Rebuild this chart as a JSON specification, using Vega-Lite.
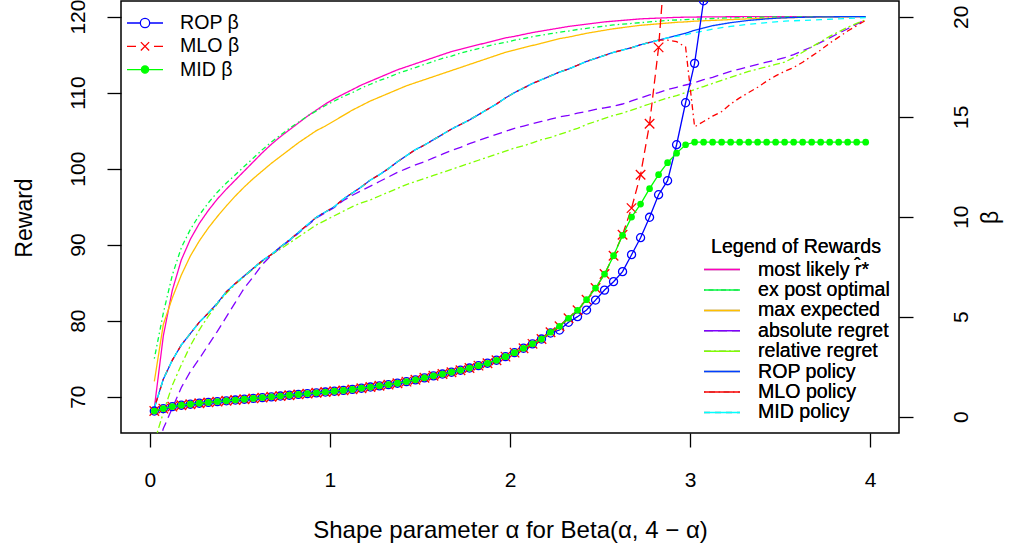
{
  "$schema": "https://vega.github.io/schema/vega-lite/v6.json",
  "width": 778,
  "height": 432,
  "autosize": {"type": "none"},
  "padding": {"left": 121, "top": 1, "right": 112, "bottom": 117},
  "background": "white",
  "config": {
    "font": "Liberation Sans",
    "view": {"stroke": "black", "strokeWidth": 1.5},
    "axis": {"domain": false, "grid": false, "tickColor": "black", "tickWidth": 1.3, "tickSize": 14, "labelColor": "black", "titleColor": "black", "labelFontSize": 21, "titleFontSize": 23, "titleFontWeight": "normal", "labelFlush": false, "labelOverlap": false, "labelBound": false},
    "legend": {"labelColor": "black", "titleColor": "black", "titleFontWeight": "normal", "labelFontWeight": "normal"}
  },
  "data": {"values": [
    {"a":0.025,"ml":68.5,"ep":75.0,"me":72.0,"ar":62.0,"rr":64.0,"rp":68.5,"mp":68.5,"dp":68.5,"bR":0.28,"bM":0.28,"bD":0.28},
    {"a":0.075,"ml":78.0,"ep":81.0,"me":79.5,"ar":65.8,"rr":67.9,"rp":72.3,"mp":72.3,"dp":72.3,"bR":0.40,"bM":0.40,"bD":0.40},
    {"a":0.125,"ml":84.0,"ep":86.0,"me":83.0,"ar":68.5,"rr":71.5,"rp":74.8,"mp":74.8,"dp":74.8,"bR":0.50,"bM":0.50,"bD":0.50},
    {"a":0.175,"ml":88.0,"ep":89.6,"me":86.0,"ar":71.2,"rr":74.2,"rp":76.8,"mp":76.8,"dp":76.8,"bR":0.57,"bM":0.57,"bD":0.57},
    {"a":0.225,"ml":90.7,"ep":92.0,"me":88.5,"ar":73.3,"rr":76.7,"rp":78.3,"mp":78.3,"dp":78.3,"bR":0.62,"bM":0.62,"bD":0.62},
    {"a":0.275,"ml":92.8,"ep":93.9,"me":90.5,"ar":75.0,"rr":78.8,"rp":79.8,"mp":79.8,"dp":79.8,"bR":0.67,"bM":0.67,"bD":0.67},
    {"a":0.325,"ml":94.5,"ep":95.5,"me":92.2,"ar":76.8,"rr":80.6,"rp":81.0,"mp":81.0,"dp":81.0,"bR":0.71,"bM":0.71,"bD":0.71},
    {"a":0.375,"ml":96.0,"ep":96.9,"me":93.7,"ar":78.6,"rr":82.2,"rp":82.3,"mp":82.3,"dp":82.3,"bR":0.75,"bM":0.75,"bD":0.75},
    {"a":0.425,"ml":97.3,"ep":98.1,"me":95.1,"ar":80.5,"rr":83.6,"rp":83.8,"mp":83.8,"dp":83.8,"bR":0.79,"bM":0.79,"bD":0.79},
    {"a":0.475,"ml":98.5,"ep":99.2,"me":96.4,"ar":82.4,"rr":84.8,"rp":84.9,"mp":84.9,"dp":84.9,"bR":0.83,"bM":0.83,"bD":0.83},
    {"a":0.525,"ml":99.7,"ep":100.3,"me":97.6,"ar":84.3,"rr":85.8,"rp":85.9,"mp":85.9,"dp":85.9,"bR":0.87,"bM":0.87,"bD":0.87},
    {"a":0.575,"ml":100.9,"ep":101.4,"me":98.7,"ar":85.8,"rr":86.8,"rp":86.9,"mp":86.9,"dp":86.9,"bR":0.91,"bM":0.91,"bD":0.91},
    {"a":0.625,"ml":102.1,"ep":102.5,"me":99.7,"ar":87.4,"rr":87.8,"rp":87.9,"mp":87.9,"dp":87.9,"bR":0.95,"bM":0.95,"bD":0.95},
    {"a":0.675,"ml":103.2,"ep":103.5,"me":100.7,"ar":88.6,"rr":88.7,"rp":88.7,"mp":88.7,"dp":88.7,"bR":0.99,"bM":0.99,"bD":0.99},
    {"a":0.725,"ml":104.2,"ep":104.4,"me":101.6,"ar":89.6,"rr":89.4,"rp":89.7,"mp":89.7,"dp":89.7,"bR":1.03,"bM":1.03,"bD":1.03},
    {"a":0.775,"ml":105.1,"ep":105.3,"me":102.5,"ar":90.5,"rr":90.2,"rp":90.6,"mp":90.6,"dp":90.6,"bR":1.07,"bM":1.07,"bD":1.07},
    {"a":0.825,"ml":106.0,"ep":106.1,"me":103.4,"ar":91.5,"rr":91.0,"rp":91.6,"mp":91.6,"dp":91.6,"bR":1.11,"bM":1.11,"bD":1.11},
    {"a":0.875,"ml":106.9,"ep":106.9,"me":104.2,"ar":92.5,"rr":91.8,"rp":92.6,"mp":92.6,"dp":92.6,"bR":1.15,"bM":1.15,"bD":1.15},
    {"a":0.925,"ml":107.7,"ep":107.6,"me":105.0,"ar":93.5,"rr":92.6,"rp":93.6,"mp":93.6,"dp":93.6,"bR":1.19,"bM":1.19,"bD":1.19},
    {"a":0.975,"ml":108.5,"ep":108.3,"me":105.6,"ar":94.2,"rr":93.2,"rp":94.3,"mp":94.3,"dp":94.3,"bR":1.23,"bM":1.23,"bD":1.23},
    {"a":1.025,"ml":109.2,"ep":108.9,"me":106.3,"ar":94.9,"rr":93.8,"rp":95.0,"mp":95.0,"dp":95.0,"bR":1.27,"bM":1.27,"bD":1.27},
    {"a":1.075,"ml":109.8,"ep":109.5,"me":107.0,"ar":95.8,"rr":94.4,"rp":96.0,"mp":96.0,"dp":96.0,"bR":1.31,"bM":1.31,"bD":1.31},
    {"a":1.125,"ml":110.4,"ep":110.0,"me":107.7,"ar":96.5,"rr":95.0,"rp":96.8,"mp":96.8,"dp":96.8,"bR":1.36,"bM":1.36,"bD":1.36},
    {"a":1.175,"ml":111.0,"ep":110.6,"me":108.3,"ar":97.1,"rr":95.5,"rp":97.6,"mp":97.6,"dp":97.6,"bR":1.42,"bM":1.42,"bD":1.42},
    {"a":1.225,"ml":111.5,"ep":111.1,"me":108.9,"ar":97.7,"rr":95.9,"rp":98.5,"mp":98.5,"dp":98.5,"bR":1.48,"bM":1.48,"bD":1.48},
    {"a":1.275,"ml":112.0,"ep":111.6,"me":109.4,"ar":98.3,"rr":96.4,"rp":99.2,"mp":99.2,"dp":99.2,"bR":1.54,"bM":1.54,"bD":1.54},
    {"a":1.325,"ml":112.5,"ep":112.0,"me":109.9,"ar":98.9,"rr":96.9,"rp":100.0,"mp":100.0,"dp":100.0,"bR":1.60,"bM":1.60,"bD":1.60},
    {"a":1.375,"ml":113.0,"ep":112.5,"me":110.4,"ar":99.5,"rr":97.4,"rp":100.9,"mp":100.9,"dp":100.9,"bR":1.67,"bM":1.67,"bD":1.67},
    {"a":1.425,"ml":113.4,"ep":112.9,"me":110.9,"ar":100.0,"rr":97.9,"rp":101.7,"mp":101.7,"dp":101.7,"bR":1.75,"bM":1.75,"bD":1.75},
    {"a":1.475,"ml":113.8,"ep":113.3,"me":111.3,"ar":100.5,"rr":98.3,"rp":102.5,"mp":102.5,"dp":102.5,"bR":1.84,"bM":1.84,"bD":1.84},
    {"a":1.525,"ml":114.2,"ep":113.7,"me":111.7,"ar":100.9,"rr":98.7,"rp":103.1,"mp":103.1,"dp":103.1,"bR":1.94,"bM":1.94,"bD":1.94},
    {"a":1.575,"ml":114.6,"ep":114.1,"me":112.1,"ar":101.4,"rr":99.1,"rp":103.8,"mp":103.8,"dp":103.8,"bR":2.04,"bM":2.04,"bD":2.04},
    {"a":1.625,"ml":115.0,"ep":114.5,"me":112.5,"ar":101.9,"rr":99.5,"rp":104.5,"mp":104.5,"dp":104.5,"bR":2.13,"bM":2.13,"bD":2.13},
    {"a":1.675,"ml":115.4,"ep":114.8,"me":112.9,"ar":102.4,"rr":99.9,"rp":105.2,"mp":105.2,"dp":105.2,"bR":2.22,"bM":2.22,"bD":2.22},
    {"a":1.725,"ml":115.7,"ep":115.2,"me":113.3,"ar":102.8,"rr":100.3,"rp":105.8,"mp":105.8,"dp":105.8,"bR":2.32,"bM":2.32,"bD":2.32},
    {"a":1.775,"ml":116.0,"ep":115.5,"me":113.7,"ar":103.3,"rr":100.7,"rp":106.4,"mp":106.4,"dp":106.4,"bR":2.43,"bM":2.43,"bD":2.43},
    {"a":1.825,"ml":116.3,"ep":115.8,"me":114.1,"ar":103.7,"rr":101.1,"rp":107.1,"mp":107.1,"dp":107.1,"bR":2.55,"bM":2.55,"bD":2.55},
    {"a":1.875,"ml":116.6,"ep":116.1,"me":114.5,"ar":104.1,"rr":101.5,"rp":107.8,"mp":107.8,"dp":107.8,"bR":2.67,"bM":2.67,"bD":2.67},
    {"a":1.925,"ml":116.9,"ep":116.4,"me":114.9,"ar":104.5,"rr":101.9,"rp":108.5,"mp":108.5,"dp":108.5,"bR":2.82,"bM":2.82,"bD":2.82},
    {"a":1.975,"ml":117.2,"ep":116.6,"me":115.3,"ar":104.9,"rr":102.3,"rp":109.3,"mp":109.3,"dp":109.3,"bR":3.00,"bM":3.00,"bD":3.00},
    {"a":2.025,"ml":117.4,"ep":116.9,"me":115.6,"ar":105.3,"rr":102.7,"rp":110.0,"mp":110.0,"dp":110.0,"bR":3.20,"bM":3.20,"bD":3.20},
    {"a":2.075,"ml":117.65,"ep":117.1,"me":115.9,"ar":105.6,"rr":103.0,"rp":110.6,"mp":110.6,"dp":110.6,"bR":3.42,"bM":3.42,"bD":3.42},
    {"a":2.125,"ml":117.9,"ep":117.35,"me":116.2,"ar":105.9,"rr":103.4,"rp":111.2,"mp":111.2,"dp":111.2,"bR":3.64,"bM":3.64,"bD":3.64},
    {"a":2.175,"ml":118.1,"ep":117.55,"me":116.5,"ar":106.2,"rr":103.8,"rp":111.7,"mp":111.7,"dp":111.7,"bR":3.88,"bM":3.88,"bD":3.88},
    {"a":2.225,"ml":118.3,"ep":117.75,"me":116.8,"ar":106.5,"rr":104.1,"rp":112.2,"mp":112.2,"dp":112.2,"bR":4.18,"bM":4.22,"bD":4.22},
    {"a":2.275,"ml":118.5,"ep":117.95,"me":117.1,"ar":106.8,"rr":104.5,"rp":112.7,"mp":112.7,"dp":112.7,"bR":4.33,"bM":4.52,"bD":4.52},
    {"a":2.325,"ml":118.7,"ep":118.1,"me":117.3,"ar":107.0,"rr":104.9,"rp":113.1,"mp":113.1,"dp":113.1,"bR":4.72,"bM":4.92,"bD":4.92},
    {"a":2.375,"ml":118.85,"ep":118.3,"me":117.55,"ar":107.3,"rr":105.3,"rp":113.6,"mp":113.6,"dp":113.6,"bR":5.0,"bM":5.32,"bD":5.32},
    {"a":2.425,"ml":119.0,"ep":118.45,"me":117.8,"ar":107.5,"rr":105.8,"rp":114.1,"mp":114.1,"dp":114.1,"bR":5.33,"bM":5.85,"bD":5.85},
    {"a":2.475,"ml":119.15,"ep":118.6,"me":118.0,"ar":107.8,"rr":106.2,"rp":114.5,"mp":114.5,"dp":114.5,"bR":5.83,"bM":6.43,"bD":6.43},
    {"a":2.525,"ml":119.3,"ep":118.75,"me":118.2,"ar":108.0,"rr":106.6,"rp":114.9,"mp":114.9,"dp":114.9,"bR":6.33,"bM":7.13,"bD":7.13},
    {"a":2.575,"ml":119.4,"ep":118.9,"me":118.4,"ar":108.2,"rr":107.0,"rp":115.3,"mp":115.3,"dp":115.3,"bR":6.75,"bM":8.05,"bD":8.05},
    {"a":2.625,"ml":119.5,"ep":119.0,"me":118.55,"ar":108.5,"rr":107.3,"rp":115.6,"mp":115.6,"dp":115.6,"bR":7.25,"bM":9.1,"bD":9.07},
    {"a":2.675,"ml":119.6,"ep":119.1,"me":118.7,"ar":108.9,"rr":107.7,"rp":115.9,"mp":115.9,"dp":115.9,"bR":8.1,"bM":10.43,"bD":9.98},
    {"a":2.725,"ml":119.7,"ep":119.2,"me":118.85,"ar":109.3,"rr":108.1,"rp":116.3,"mp":116.3,"dp":116.3,"bR":8.95,"bM":12.1,"bD":10.63},
    {"a":2.775,"ml":119.75,"ep":119.3,"me":118.95,"ar":109.7,"rr":108.5,"rp":116.6,"mp":116.6,"dp":116.6,"bR":9.97,"bM":14.65,"bD":11.4},
    {"a":2.825,"ml":119.8,"ep":119.4,"me":119.05,"ar":110.0,"rr":108.9,"rp":116.9,"mp":116.9,"dp":116.9,"bR":11.1,"bM":18.47,"bD":12.1},
    {"a":2.875,"ml":119.85,"ep":119.5,"me":119.15,"ar":110.4,"rr":109.3,"rp":117.2,"mp":116.9,"dp":117.2,"bR":11.8,"bM":24.3,"bD":12.7},
    {"a":2.925,"ml":119.9,"ep":119.55,"me":119.25,"ar":110.7,"rr":109.6,"rp":117.5,"mp":116.7,"dp":117.4,"bR":13.6,"bM":null,"bD":13.18},
    {"a":2.975,"ml":119.92,"ep":119.6,"me":119.3,"ar":111.0,"rr":110.0,"rp":117.8,"mp":116.0,"dp":117.6,"bR":15.7,"bM":null,"bD":13.6},
    {"a":3.025,"ml":119.94,"ep":119.65,"me":119.4,"ar":111.3,"rr":110.4,"rp":118.2,"mp":105.5,"dp":117.9,"bR":17.67,"bM":null,"bD":13.73},
    {"a":3.075,"ml":119.95,"ep":119.7,"me":119.45,"ar":111.7,"rr":110.8,"rp":118.5,"mp":106.2,"dp":118.1,"bR":20.8,"bM":null,"bD":13.73},
    {"a":3.125,"ml":119.96,"ep":119.75,"me":119.5,"ar":112.0,"rr":111.2,"rp":118.8,"mp":106.9,"dp":118.35,"bR":24.5,"bM":null,"bD":13.73},
    {"a":3.175,"ml":119.97,"ep":119.8,"me":119.55,"ar":112.4,"rr":111.6,"rp":119.0,"mp":107.5,"dp":118.55,"bR":null,"bM":null,"bD":13.73},
    {"a":3.225,"ml":119.98,"ep":119.83,"me":119.6,"ar":112.8,"rr":112.0,"rp":119.2,"mp":108.5,"dp":118.7,"bR":null,"bM":null,"bD":13.73},
    {"a":3.275,"ml":119.98,"ep":119.86,"me":119.65,"ar":113.1,"rr":112.4,"rp":119.35,"mp":109.3,"dp":118.85,"bR":null,"bM":null,"bD":13.73},
    {"a":3.325,"ml":119.99,"ep":119.89,"me":119.7,"ar":113.4,"rr":112.8,"rp":119.5,"mp":110.0,"dp":119.0,"bR":null,"bM":null,"bD":13.73},
    {"a":3.375,"ml":119.99,"ep":119.91,"me":119.75,"ar":113.7,"rr":113.1,"rp":119.6,"mp":110.7,"dp":119.1,"bR":null,"bM":null,"bD":13.73},
    {"a":3.425,"ml":120,"ep":119.93,"me":119.78,"ar":114.0,"rr":113.4,"rp":119.7,"mp":111.5,"dp":119.2,"bR":null,"bM":null,"bD":13.73},
    {"a":3.475,"ml":120,"ep":119.95,"me":119.81,"ar":114.3,"rr":113.7,"rp":119.78,"mp":112.2,"dp":119.3,"bR":null,"bM":null,"bD":13.73},
    {"a":3.525,"ml":120,"ep":119.96,"me":119.84,"ar":114.6,"rr":114.0,"rp":119.84,"mp":112.8,"dp":119.4,"bR":null,"bM":null,"bD":13.73},
    {"a":3.575,"ml":120,"ep":119.97,"me":119.87,"ar":115.0,"rr":114.6,"rp":119.88,"mp":113.3,"dp":119.45,"bR":null,"bM":null,"bD":13.73},
    {"a":3.625,"ml":120,"ep":119.98,"me":119.9,"ar":115.5,"rr":115.3,"rp":119.91,"mp":114.0,"dp":119.5,"bR":null,"bM":null,"bD":13.73},
    {"a":3.675,"ml":120,"ep":119.99,"me":119.92,"ar":116.0,"rr":116.0,"rp":119.94,"mp":114.8,"dp":119.55,"bR":null,"bM":null,"bD":13.73},
    {"a":3.725,"ml":120,"ep":120,"me":119.94,"ar":116.6,"rr":116.7,"rp":119.96,"mp":115.6,"dp":119.6,"bR":null,"bM":null,"bD":13.73},
    {"a":3.775,"ml":120,"ep":120,"me":119.96,"ar":117.2,"rr":117.4,"rp":119.97,"mp":116.5,"dp":119.65,"bR":null,"bM":null,"bD":13.73},
    {"a":3.825,"ml":120,"ep":120,"me":119.97,"ar":117.8,"rr":118.0,"rp":119.98,"mp":117.3,"dp":119.7,"bR":null,"bM":null,"bD":13.73},
    {"a":3.875,"ml":120,"ep":120,"me":119.98,"ar":118.4,"rr":118.6,"rp":119.99,"mp":118.1,"dp":119.75,"bR":null,"bM":null,"bD":13.73},
    {"a":3.925,"ml":120,"ep":120,"me":119.99,"ar":119.0,"rr":119.1,"rp":120,"mp":118.8,"dp":119.8,"bR":null,"bM":null,"bD":13.73},
    {"a":3.975,"ml":120,"ep":120,"me":120,"ar":119.6,"rr":119.6,"rp":120,"mp":119.5,"dp":119.85,"bR":null,"bM":null,"bD":13.73}
  ]},
  "layer": [
    {
      "transform": [{"fold": ["ml","ep","me","ar","rr","rp","mp","dp"], "as": ["series","reward"]}],
      "mark": {"type": "line", "clip": true, "strokeWidth": 1.3},
      "encoding": {
        "x": {"field": "a", "type": "quantitative", "scale": {"domain": [-0.16, 4.16], "nice": false, "zero": false},
          "axis": {"values": [0,1,2,3,4], "title": "Shape parameter α for Beta(α, 4 − α)", "titleFontSize": 24, "labelPadding": 22, "titleX": 389, "titleY": 97, "titleBaseline": "middle", "titleAlign": "center"}},
        "y": {"field": "reward", "type": "quantitative", "scale": {"domain": [65.22, 122.05], "nice": false, "zero": false},
          "axis": {"orient": "left", "values": [70,80,90,100,110,120], "title": "Reward", "labelAngle": -90, "labelAlign": "center", "labelBaseline": "bottom", "labelPadding": 19, "titleX": -97, "titleY": 216.5, "titleAngle": -90, "titleBaseline": "middle", "titleAlign": "center"}},
        "color": {"field": "series", "type": "nominal",
          "scale": {"domain": ["ml","ep","me","ar","rr","rp","mp","dp"], "range": ["#FF00BF","#00FF40","#FFBF00","#8000FF","#80FF00","#0040FF","#FF0000","#00FFFF"]},
          "legend": {"orient": "none", "legendX": 582, "legendY": 237, "title": "Legend of Rewards", "titleFontSize": 19.6, "titleFontWeight": "normal", "titleAnchor": "middle", "titlePadding": 2, "labelFontSize": 19.6, "labelFontWeight": "normal", "labelOffset": 17, "symbolType": "stroke", "symbolSize": 1296, "symbolStrokeWidth": 1.5, "clipHeight": 20, "rowPadding": 0.4, "padding": 0,
            "labelExpr": "datum.value === 'ml' ? 'most likely r\u0302*' : datum.value === 'ep' ? 'ex post optimal' : datum.value === 'me' ? 'max expected' : datum.value === 'ar' ? 'absolute regret' : datum.value === 'rr' ? 'relative regret' : datum.value === 'rp' ? 'ROP policy' : datum.value === 'mp' ? 'MLO policy' : 'MID policy'"}},
        "strokeDash": {"field": "series", "type": "nominal",
          "scale": {"domain": ["ml","ep","me","ar","rr","rp","mp","dp"], "range": [[1,0],[1.5,3,5,3],[1,0],[9,5],[7,3,2,3],[1,0],[1.5,3.5,6,3.5],[6,5]]},
          "legend": {"orient": "none", "legendX": 582, "legendY": 237, "title": "Legend of Rewards", "titleFontSize": 19.6, "titleFontWeight": "normal", "titleAnchor": "middle", "titlePadding": 2, "labelFontSize": 19.6, "labelFontWeight": "normal", "labelOffset": 17, "symbolType": "stroke", "symbolSize": 1296, "symbolStrokeWidth": 1.5, "clipHeight": 20, "rowPadding": 0.4, "padding": 0,
            "labelExpr": "datum.value === 'ml' ? 'most likely r\u0302*' : datum.value === 'ep' ? 'ex post optimal' : datum.value === 'me' ? 'max expected' : datum.value === 'ar' ? 'absolute regret' : datum.value === 'rr' ? 'relative regret' : datum.value === 'rp' ? 'ROP policy' : datum.value === 'mp' ? 'MLO policy' : 'MID policy'"}}
      }
    },
    {
      "transform": [{"fold": ["bR","bM","bD"], "as": ["bs","beta"]}],
      "encoding": {
        "x": {"field": "a", "type": "quantitative", "scale": {"domain": [-0.16, 4.16], "nice": false, "zero": false},
          "axis": {"values": [0,1,2,3,4], "title": "Shape parameter α for Beta(α, 4 − α)", "titleFontSize": 24, "labelPadding": 22, "titleX": 389, "titleY": 97, "titleBaseline": "middle", "titleAlign": "center"}},
        "y": {"field": "beta", "type": "quantitative", "scale": {"domain": [-0.82, 20.79], "nice": false, "zero": false},
          "axis": {"orient": "right", "values": [0,5,10,15,20], "title": "β", "labelAngle": -90, "labelAlign": "center", "labelBaseline": "top", "labelPadding": 37, "titleX": 91, "titleY": 216, "titleAngle": -90, "titleBaseline": "middle", "titleAlign": "center"}}
      },
      "layer": [
        {"transform": [{"filter": "datum.bs === 'bR'"}], "mark": {"type": "line", "color": "#0000FF", "strokeWidth": 1.3, "clip": true}},
        {"transform": [{"filter": "datum.bs === 'bR'"}], "mark": {"type": "point", "shape": "circle", "filled": false, "color": "#0000FF", "size": 65, "strokeWidth": 1.3, "opacity": 1, "clip": true}},
        {"transform": [{"filter": "datum.bs === 'bM'"}], "mark": {"type": "line", "color": "#FF0000", "strokeWidth": 1.3, "strokeDash": [9,5], "clip": true}},
        {"transform": [{"filter": "datum.bs === 'bM'"}], "mark": {"type": "point", "shape": "M-1,-1L1,1M-1,1L1,-1", "filled": false, "color": "#FF0000", "size": 90, "strokeWidth": 1.3, "opacity": 1, "clip": true}},
        {"transform": [{"filter": "datum.bs === 'bD'"}], "mark": {"type": "line", "color": "#00FF00", "strokeWidth": 1.3, "clip": true}},
        {"transform": [{"filter": "datum.bs === 'bD'"}], "mark": {"type": "point", "shape": "circle", "filled": true, "color": "#00FF00", "size": 45, "opacity": 1, "clip": true}},
        {
          "mark": {"type": "point", "opacity": 0, "clip": true},
          "encoding": {
            "stroke": {"field": "bs", "type": "nominal", "scale": {"domain": ["bR","bM","bD"], "range": ["#0000FF","#FF0000","#00FF00"]},
              "legend": {"orient": "none", "legendX": 5, "legendY": 12, "title": null, "labelFontSize": 19.6, "labelFontWeight": "normal", "labelOffset": 16, "symbolSize": 1296, "symbolStrokeWidth": 1.3, "symbolOpacity": 1, "clipHeight": 20, "rowPadding": 3.3, "padding": 0,
                "labelExpr": "datum.value === 'bR' ? 'ROP β' : datum.value === 'bM' ? 'MLO β' : 'MID β'"}},
            "fill": {"field": "bs", "type": "nominal", "scale": {"domain": ["bR","bM","bD"], "range": ["transparent","transparent","#00FF00"]},
              "legend": {"orient": "none", "legendX": 5, "legendY": 12, "title": null, "labelFontSize": 19.6, "labelFontWeight": "normal", "labelOffset": 16, "symbolSize": 1296, "symbolStrokeWidth": 1.3, "symbolOpacity": 1, "clipHeight": 20, "rowPadding": 3.3, "padding": 0,
                "labelExpr": "datum.value === 'bR' ? 'ROP β' : datum.value === 'bM' ? 'MLO β' : 'MID β'"}},
            "shape": {"field": "bs", "type": "nominal", "scale": {"domain": ["bR","bM","bD"], "range": ["M-1,0L-0.26,0M0.26,0L1,0M0.26,0A0.26,0.26,0,1,1,-0.26,0A0.26,0.26,0,1,1,0.26,0", "M-1,0L-0.5,0M0.5,0L1,0M-0.23,-0.23L0.23,0.23M-0.23,0.23L0.23,-0.23", "M-1,0L1,0M0.2,0A0.2,0.2,0,1,1,-0.2,0A0.2,0.2,0,1,1,0.2,0"]},
              "legend": {"orient": "none", "legendX": 5, "legendY": 12, "title": null, "labelFontSize": 19.6, "labelFontWeight": "normal", "labelOffset": 16, "symbolSize": 1296, "symbolStrokeWidth": 1.3, "symbolOpacity": 1, "clipHeight": 20, "rowPadding": 3.3, "padding": 0,
                "labelExpr": "datum.value === 'bR' ? 'ROP β' : datum.value === 'bM' ? 'MLO β' : 'MID β'"}}
          }
        }
      ]
    }
  ],
  "resolve": {"scale": {"y": "independent", "color": "independent", "shape": "independent", "stroke": "independent", "fill": "independent"}, "legend": {"color": "independent", "shape": "independent", "stroke": "independent", "fill": "independent"}}
}
